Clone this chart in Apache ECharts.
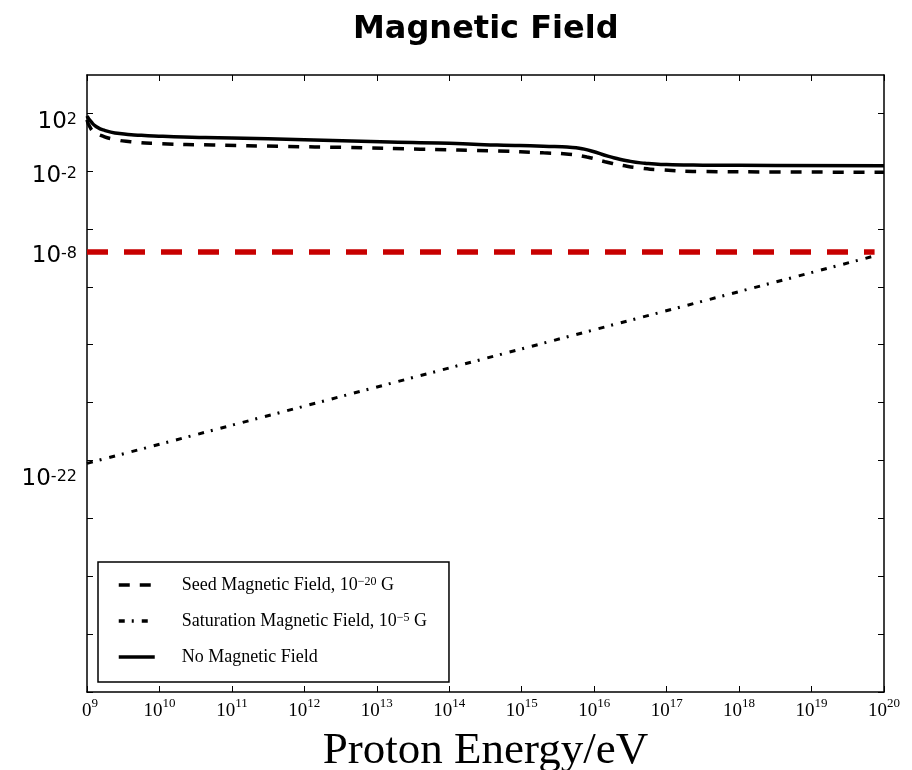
<!DOCTYPE html>
<html>
<head>
<meta charset="utf-8">
<title>Magnetic Field</title>
<script src="https://cdn.jsdelivr.net/npm/echarts@6/dist/echarts.min.js"></script>
<style>
  html, body { margin: 0; padding: 0; background: #fff; }
  #chart { width: 912px; height: 770px; }
</style>
</head>
<body>
<div id="chart"></div>
<script>
// every value is a log10: energy in eV, field in G
const noFieldX = [9.0, 9.05, 9.12, 9.25, 9.45, 9.75, 10.2, 11.0, 12.0, 13.05, 14.0, 14.66, 15.3, 15.7, 15.95, 16.2, 16.45, 16.7, 17.0, 17.5, 18.5, 20.0];
const noFieldY = [1.81, 1.45, 1.10, 0.80, 0.60, 0.47, 0.38, 0.29, 0.17, 0.03, -0.08, -0.20, -0.28, -0.37, -0.60, -0.98, -1.28, -1.46, -1.55, -1.59, -1.61, -1.63];

const seedX = [9.0, 9.04, 9.1, 9.2, 9.35, 9.6, 10.0, 10.74, 11.7, 12.59, 13.6, 14.66, 15.3, 15.65, 15.9, 16.15, 16.4, 16.65, 16.95, 17.46, 18.5, 20.0];
const seedY = [1.53, 1.05, 0.70, 0.45, 0.22, 0.03, -0.10, -0.20, -0.29, -0.37, -0.49, -0.61, -0.74, -0.84, -1.03, -1.35, -1.62, -1.80, -1.92, -2.03, -2.06, -2.08];

const saturationX = [9.0, 19.88];
const saturationY = [-22.2, -7.85];

const levelX = [9.0, 19.87];
const levelY = [-7.6, -7.6];

const yTicks = [-38, -34, -30, -26, -22, -18, -14, -10, -6, -2, 2];
const yLabels = [2, -2, -8, -22];

const legendText = {
  'Seed Magnetic Field': 'Seed Magnetic Field, 10{sup|−20} G',
  'Saturation Magnetic Field': 'Saturation Magnetic Field, 10{sup|−5} G',
  'No Magnetic Field': 'No Magnetic Field'
};

const serif = "'Liberation Serif', 'DejaVu Serif', serif";
const sans = "'DejaVu Sans', 'Liberation Sans', sans-serif";

// the printed y labels sit a little off their ticks in the original figure
const labelNudge = { '2': 9, '-2': 5, '-8': -2, '-22': 19 };
const yRich = {};
yLabels.forEach((v, i) => {
  const d = labelNudge[v] || 0;
  const pad = d >= 0 ? [2 * d, 0, 0, 0] : [0, 0, -2 * d, 0];
  yRich['b' + i] = { fontFamily: sans, fontSize: 23, color: '#000', verticalAlign: 'bottom', padding: pad };
  yRich['s' + i] = { fontFamily: sans, fontSize: 16, color: '#000', verticalAlign: 'top', padding: [pad[0] + 1, 0, pad[2], 0] };
});

const chart = echarts.init(document.getElementById('chart'));

const pairs = (xs, ys) => xs.map((x, i) => [x, ys[i]]);

const frameLine = { show: true, onZero: false, lineStyle: { color: '#000', width: 1.5 } };
const tickStyle = { color: '#000', width: 1 };

const option = {
  animation: false,
  backgroundColor: '#fff',
  title: {
    text: 'Magnetic Field',
    left: 348,
    top: 9,
    textStyle: { fontFamily: sans, fontSize: 32, fontWeight: 'bold', color: '#000' }
  },
  grid: { left: 87, right: 28, top: 75, bottom: 78, outerBoundsMode: 'none' },
  legend: {
    orient: 'vertical',
    left: 98,
    top: 562,
    padding: [14, 22, 16, 19],
    itemWidth: 36,
    itemHeight: 14,
    itemGap: 18,
    borderColor: '#000',
    borderWidth: 1.5,
    backgroundColor: '#fff',
    data: ['Seed Magnetic Field', 'Saturation Magnetic Field', 'No Magnetic Field'],
    formatter: name => legendText[name],
    itemStyle: { color: 'rgba(0,0,0,0)', borderWidth: 0, opacity: 0 },
    lineStyle: { width: 3.5 },
    textStyle: {
      fontFamily: serif, fontSize: 18, color: '#000', padding: [0, 0, 0, 22],
      rich: { sup: { fontFamily: serif, fontSize: 12, verticalAlign: 'top', padding: [0, 0, 4, 0] } }
    }
  },
  xAxis: [
    {
      type: 'value', min: 9, max: 20, interval: 1, position: 'bottom',
      name: 'Proton Energy/eV', nameLocation: 'middle', nameGap: 37,
      nameTextStyle: { fontFamily: serif, fontSize: 45, color: '#000' },
      axisLine: frameLine,
      axisTick: { inside: true, length: 6, lineStyle: tickStyle },
      splitLine: { show: false },
      axisLabel: {
        margin: 5,
        formatter: v => (v === 9 ? '{c|0}{s|9}' : '{b|10}{s|' + v + '}'),
        rich: {
          b: { fontFamily: serif, fontSize: 19, color: '#000', verticalAlign: 'bottom', lineHeight: 24 },
          c: { fontFamily: serif, fontSize: 19, color: '#000', verticalAlign: 'bottom', lineHeight: 24, padding: [0, 0, 0, 6] },
          s: { fontFamily: serif, fontSize: 13, color: '#000', verticalAlign: 'top', lineHeight: 13 }
        }
      }
    },
    {
      type: 'value', min: 9, max: 20, interval: 1, position: 'top',
      axisLine: frameLine,
      axisTick: { inside: true, length: 6, lineStyle: tickStyle },
      axisLabel: { show: false },
      splitLine: { show: false }
    }
  ],
  yAxis: [
    {
      type: 'value', min: -38, max: 4.64, position: 'left',
      axisLine: frameLine,
      axisTick: { inside: true, length: 6, lineStyle: tickStyle, customValues: yTicks },
      splitLine: { show: false },
      axisLabel: {
        customValues: yLabels,
        margin: 10,
        formatter: v => {
          const i = yLabels.indexOf(v);
          return '{b' + i + '|10}{s' + i + '|' + v + '}';
        },
        rich: yRich
      }
    },
    {
      type: 'value', min: -38, max: 4.64, position: 'right',
      axisLine: frameLine,
      axisTick: { inside: true, length: 6, lineStyle: tickStyle, customValues: yTicks },
      axisLabel: { show: false },
      splitLine: { show: false }
    }
  ],
  series: [
    {
      name: 'Level',
      type: 'line',
      data: pairs(levelX, levelY),
      symbol: 'none',
      lineStyle: { color: '#c80000', width: 5.5, type: [21, 16] }
    },
    {
      name: 'Seed Magnetic Field',
      type: 'line',
      data: pairs(seedX, seedY),
      symbol: 'none',
      smooth: 0.6,
      lineStyle: { color: '#000', width: 3.5, type: [11, 10] },
      itemStyle: { color: '#000' }
    },
    {
      name: 'Saturation Magnetic Field',
      type: 'line',
      data: pairs(saturationX, saturationY),
      symbol: 'none',
      lineStyle: { color: '#000', width: 3, type: [6, 7, 2, 8] },
      itemStyle: { color: '#000' }
    },
    {
      name: 'No Magnetic Field',
      type: 'line',
      data: pairs(noFieldX, noFieldY),
      symbol: 'none',
      smooth: 0.6,
      lineStyle: { color: '#000', width: 3.5 },
      itemStyle: { color: '#000' }
    }
  ]
};

chart.setOption(option);
</script>
</body>
</html>
